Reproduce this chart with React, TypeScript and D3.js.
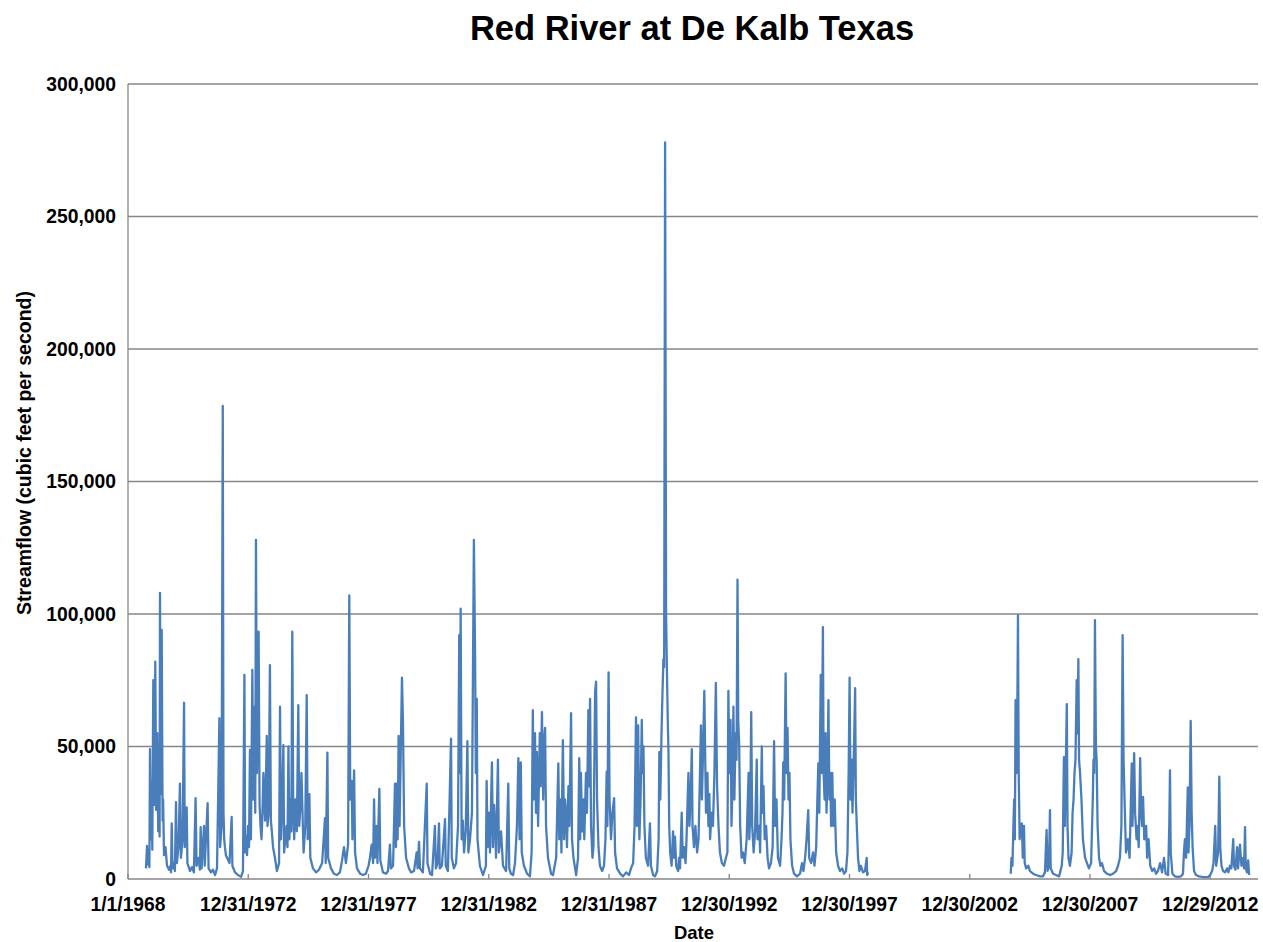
import React from "react";
import * as d3 from "d3";

// Daily streamflow (cfs) as [decimal year, flow]
const flows1968to1998: [number, number][] = [
[1968.748,4000],[1968.79,12500],[1968.83,5500],[1968.87,8000],[1968.89,4500],[1968.915,49000],[1968.948,15000],[1968.985,37000],[1969.01,11000],[1969.052,75000],[1969.089,28000],[1969.135,82000],[1969.172,26000],[1969.218,55000],[1969.256,18000],[1969.289,40000],[1969.314,16000],[1969.33,108000],[1969.364,32000],[1969.401,94000],[1969.438,22000],[1969.46,30000],[1969.497,9000],[1969.559,12000],[1969.621,5000],[1969.705,3500],[1969.767,5000],[1969.79,2500],[1969.817,21000],[1969.85,4000],[1969.91,6000],[1969.95,3000],[1969.996,29000],[1970.03,6000],[1970.10,12000],[1970.16,36000],[1970.20,8000],[1970.27,15000],[1970.33,66500],[1970.36,12000],[1970.44,27000],[1970.47,6000],[1970.58,3000],[1970.66,4500],[1970.74,2500],[1970.81,30500],[1970.85,5000],[1970.93,8000],[1970.99,3500],[1971.02,19600],[1971.06,4000],[1971.16,20000],[1971.19,5000],[1971.31,28600],[1971.35,4000],[1971.45,2500],[1971.53,3500],[1971.62,1500],[1971.70,4000],[1971.80,60700],[1971.83,12000],[1971.89,20000],[1971.94,178500],[1971.97,25000],[1972.00,15000],[1972.03,12000],[1972.07,9000],[1972.12,8000],[1972.22,6000],[1972.31,23400],[1972.34,5000],[1972.45,2500],[1972.57,1500],[1972.70,800],[1972.78,3000],[1972.84,77000],[1972.87,10000],[1972.92,16000],[1972.95,9000],[1972.99,20000],[1973.03,12000],[1973.07,48700],[1973.11,15000],[1973.17,78900],[1973.21,30000],[1973.26,65000],[1973.29,25000],[1973.32,128000],[1973.36,40000],[1973.43,93300],[1973.47,28000],[1973.51,20000],[1973.55,15000],[1973.59,25000],[1973.63,40000],[1973.70,22000],[1973.77,54000],[1973.80,20000],[1973.85,25000],[1973.90,80700],[1973.94,22000],[1973.98,18000],[1974.03,12000],[1974.11,8000],[1974.19,3000],[1974.28,6000],[1974.32,65000],[1974.36,15000],[1974.40,25000],[1974.46,50500],[1974.49,10000],[1974.54,15000],[1974.59,20000],[1974.63,12000],[1974.67,50000],[1974.71,15000],[1974.76,30000],[1974.79,18000],[1974.83,93300],[1974.87,25000],[1974.91,15000],[1974.96,30000],[1975.02,18000],[1975.08,65600],[1975.12,20000],[1975.17,28000],[1975.21,40000],[1975.30,10000],[1975.37,20000],[1975.43,69400],[1975.47,15000],[1975.54,32000],[1975.58,8000],[1975.69,4000],[1975.82,2500],[1975.94,3500],[1976.07,6000],[1976.19,23000],[1976.22,6000],[1976.29,47700],[1976.32,8000],[1976.44,4000],[1976.56,2000],[1976.69,1500],[1976.81,2500],[1976.90,7000],[1976.98,12000],[1977.06,6000],[1977.15,13000],[1977.20,107000],[1977.24,30000],[1977.30,37000],[1977.33,15000],[1977.40,41000],[1977.44,10000],[1977.52,4000],[1977.65,2000],[1977.77,1500],[1977.89,2000],[1978.00,5000],[1978.06,8000],[1978.13,13000],[1978.19,6000],[1978.23,30000],[1978.27,8000],[1978.34,20000],[1978.37,6000],[1978.45,34000],[1978.49,7000],[1978.60,2500],[1978.73,2000],[1978.81,3000],[1978.89,13000],[1978.93,4000],[1979.02,5000],[1979.10,36000],[1979.14,12000],[1979.17,36000],[1979.21,15000],[1979.25,54000],[1979.29,20000],[1979.39,76000],[1979.43,60000],[1979.48,20000],[1979.56,8000],[1979.68,4000],[1979.77,2500],[1979.89,3000],[1980.00,10000],[1980.04,4000],[1980.10,14000],[1980.14,4000],[1980.26,2500],[1980.42,36000],[1980.45,6000],[1980.56,2000],[1980.64,1500],[1980.76,20000],[1980.80,4000],[1980.87,6000],[1980.93,21000],[1980.96,4000],[1981.05,5000],[1981.18,22600],[1981.21,5000],[1981.30,3000],[1981.43,53000],[1981.46,8000],[1981.55,4000],[1981.64,6000],[1981.72,20000],[1981.77,92000],[1981.80,40000],[1981.83,102000],[1981.87,15000],[1981.92,22000],[1981.97,10000],[1982.04,18000],[1982.11,52000],[1982.15,10000],[1982.22,15000],[1982.30,25000],[1982.38,128000],[1982.43,84000],[1982.46,40000],[1982.50,68000],[1982.53,15000],[1982.63,5000],[1982.76,1500],[1982.88,5000],[1982.91,37000],[1982.95,12000],[1983.01,25000],[1983.05,10000],[1983.13,44000],[1983.17,12000],[1983.22,28000],[1983.26,20000],[1983.30,8000],[1983.38,45000],[1983.42,10000],[1983.51,18000],[1983.59,5000],[1983.72,3000],[1983.81,36000],[1983.85,4000],[1983.92,2000],[1984.01,1500],[1984.09,6000],[1984.17,20000],[1984.23,45600],[1984.28,15000],[1984.33,44000],[1984.37,10000],[1984.46,5000],[1984.59,2000],[1984.71,1000],[1984.78,10000],[1984.83,63700],[1984.86,30000],[1984.89,40000],[1984.92,55000],[1984.96,25000],[1985.00,48000],[1985.05,20000],[1985.08,35000],[1985.12,55000],[1985.15,35000],[1985.21,63000],[1985.26,30000],[1985.30,52000],[1985.34,57000],[1985.38,20000],[1985.42,14000],[1985.46,8000],[1985.59,2000],[1985.67,1500],[1985.80,8000],[1985.89,43600],[1985.93,15000],[1985.98,30000],[1986.02,10000],[1986.08,52400],[1986.13,15000],[1986.17,30000],[1986.21,25000],[1986.25,12000],[1986.31,35000],[1986.35,20000],[1986.42,62600],[1986.46,15000],[1986.52,8000],[1986.63,1500],[1986.71,8000],[1986.76,45600],[1986.80,15000],[1986.83,40000],[1986.88,18000],[1986.93,30000],[1986.97,15000],[1987.04,40000],[1987.08,25000],[1987.14,63700],[1987.17,35000],[1987.21,68000],[1987.25,20000],[1987.31,8000],[1987.35,12000],[1987.42,70700],[1987.46,74500],[1987.50,30000],[1987.56,12000],[1987.62,5000],[1987.71,3000],[1987.79,5000],[1987.85,15000],[1987.90,40500],[1987.93,20000],[1987.98,78000],[1988.02,30000],[1988.08,15000],[1988.14,25000],[1988.21,30500],[1988.25,10000],[1988.33,4000],[1988.46,2000],[1988.58,1000],[1988.71,2500],[1988.83,1500],[1988.91,4000],[1989.00,6000],[1989.06,20000],[1989.12,61000],[1989.16,20000],[1989.21,58000],[1989.26,15000],[1989.31,30000],[1989.36,60000],[1989.39,40000],[1989.43,50000],[1989.47,20000],[1989.53,8000],[1989.62,5000],[1989.70,21000],[1989.74,5000],[1989.83,1500],[1989.91,1000],[1990.00,3000],[1990.06,15000],[1990.09,48000],[1990.13,30000],[1990.18,55000],[1990.22,70000],[1990.26,83000],[1990.29,80000],[1990.33,278000],[1990.37,100000],[1990.40,82000],[1990.44,60000],[1990.47,48000],[1990.50,20000],[1990.54,10000],[1990.60,5000],[1990.66,18000],[1990.70,8000],[1990.74,16000],[1990.79,5000],[1990.87,3000],[1990.91,8000],[1990.95,4000],[1991.02,25000],[1991.06,8000],[1991.12,12000],[1991.18,6000],[1991.22,15000],[1991.26,28000],[1991.30,40000],[1991.34,20000],[1991.39,30000],[1991.44,49000],[1991.47,20000],[1991.53,12000],[1991.59,20000],[1991.66,10000],[1991.72,15000],[1991.78,40000],[1991.82,58000],[1991.86,30000],[1991.90,45000],[1991.96,71000],[1991.99,50000],[1992.03,25000],[1992.09,40000],[1992.13,20000],[1992.17,32000],[1992.20,15000],[1992.26,25000],[1992.32,20000],[1992.38,40000],[1992.44,74000],[1992.49,35000],[1992.55,20000],[1992.61,10000],[1992.69,6000],[1992.78,5000],[1992.86,8000],[1992.92,10000],[1992.96,71000],[1993.00,40000],[1993.05,60000],[1993.09,20000],[1993.13,35000],[1993.17,65000],[1993.21,30000],[1993.26,55000],[1993.30,45000],[1993.34,113000],[1993.37,60000],[1993.41,50000],[1993.45,20000],[1993.51,8000],[1993.57,10000],[1993.64,6000],[1993.72,15000],[1993.80,40000],[1993.83,15000],[1993.87,25000],[1993.91,63000],[1993.95,20000],[1994.01,10000],[1994.07,18000],[1994.14,45000],[1994.17,15000],[1994.24,20000],[1994.28,10000],[1994.35,50000],[1994.38,25000],[1994.42,35000],[1994.47,15000],[1994.53,20000],[1994.59,8000],[1994.65,4000],[1994.73,6000],[1994.80,12000],[1994.86,52000],[1994.90,20000],[1994.96,30000],[1995.02,8000],[1995.11,5000],[1995.17,15000],[1995.21,25000],[1995.24,44000],[1995.28,30000],[1995.34,77600],[1995.38,40000],[1995.42,57000],[1995.46,30000],[1995.50,40000],[1995.54,15000],[1995.61,5000],[1995.69,2000],[1995.81,1000],[1995.94,2000],[1996.02,6000],[1996.08,3000],[1996.15,8000],[1996.21,15000],[1996.28,26000],[1996.32,8000],[1996.40,6000],[1996.48,10000],[1996.54,5000],[1996.61,12000],[1996.66,30000],[1996.70,43600],[1996.74,25000],[1996.80,77000],[1996.84,40000],[1996.89,95000],[1996.92,40000],[1996.96,30000],[1997.00,55000],[1997.04,25000],[1997.08,38000],[1997.12,67500],[1997.16,30000],[1997.20,40000],[1997.23,20000],[1997.28,40000],[1997.32,20000],[1997.38,30000],[1997.44,10000],[1997.52,5000],[1997.60,3000],[1997.69,4000],[1997.77,2000],[1997.85,3000],[1997.91,10000],[1997.96,40000],[1998.00,76000],[1998.04,30000],[1998.08,45000],[1998.12,25000],[1998.16,40000],[1998.23,72000],[1998.26,30000],[1998.30,20000],[1998.35,8000],[1998.41,3000],[1998.47,5000],[1998.56,2500],[1998.64,3000],[1998.71,8000],[1998.73,1500],[1998.77,2500]
];

const flows2004to2014: [number, number][] = [
[2004.70,2000],[2004.73,8000],[2004.77,5000],[2004.81,20000],[2004.84,30000],[2004.87,15000],[2004.90,67500],[2004.94,40000],[2004.97,60000],[2005.00,99600],[2005.03,40000],[2005.07,15000],[2005.11,20000],[2005.16,21000],[2005.20,8000],[2005.25,20000],[2005.28,6000],[2005.34,4000],[2005.43,5000],[2005.50,3000],[2005.63,2000],[2005.75,1500],[2005.92,1000],[2006.04,1000],[2006.12,2500],[2006.19,18500],[2006.23,3000],[2006.29,5000],[2006.33,26000],[2006.36,4000],[2006.46,2000],[2006.58,1500],[2006.71,1000],[2006.82,5000],[2006.86,10000],[2006.91,46000],[2006.95,20000],[2007.03,66000],[2007.06,20000],[2007.10,8000],[2007.16,5000],[2007.23,10000],[2007.27,25000],[2007.31,30000],[2007.35,40000],[2007.39,45000],[2007.44,75000],[2007.48,55000],[2007.51,83000],[2007.54,45000],[2007.58,40000],[2007.64,30000],[2007.70,15000],[2007.79,8000],[2007.87,6000],[2007.95,4000],[2008.04,6000],[2008.11,30000],[2008.14,45000],[2008.17,40000],[2008.20,97700],[2008.24,50000],[2008.27,45000],[2008.31,20000],[2008.37,8000],[2008.43,5000],[2008.49,6000],[2008.58,3000],[2008.70,2000],[2008.83,1500],[2008.95,2000],[2009.08,3000],[2009.16,5000],[2009.24,8000],[2009.30,20000],[2009.35,92000],[2009.39,45000],[2009.43,30000],[2009.49,10000],[2009.57,15000],[2009.64,8000],[2009.73,43600],[2009.76,20000],[2009.83,47500],[2009.87,25000],[2009.93,15000],[2009.97,20000],[2010.02,12000],[2010.08,45600],[2010.12,25000],[2010.16,20000],[2010.20,31000],[2010.25,15000],[2010.33,20000],[2010.37,8000],[2010.43,15000],[2010.50,5000],[2010.58,3000],[2010.66,4000],[2010.74,2000],[2010.82,3000],[2010.91,6000],[2010.99,2500],[2011.07,8000],[2011.14,2000],[2011.24,1500],[2011.29,20000],[2011.32,41000],[2011.35,10000],[2011.42,2000],[2011.53,1000],[2011.65,800],[2011.78,1000],[2011.86,2000],[2011.90,10000],[2011.94,15000],[2011.99,8000],[2012.06,34600],[2012.09,10000],[2012.13,20000],[2012.18,59700],[2012.22,25000],[2012.26,12000],[2012.32,3000],[2012.40,1500],[2012.53,1000],[2012.66,800],[2012.78,700],[2012.91,800],[2012.99,1500],[2013.07,3000],[2013.13,6000],[2013.20,20000],[2013.24,5000],[2013.32,10000],[2013.37,38600],[2013.41,12000],[2013.46,5000],[2013.53,3000],[2013.61,2500],[2013.69,4000],[2013.75,2500],[2013.81,5000],[2013.87,4000],[2013.95,15000],[2013.98,5000],[2014.04,3500],[2014.11,12000],[2014.15,4000],[2014.23,13000],[2014.29,5000],[2014.36,8000],[2014.40,4000],[2014.44,19600],[2014.47,4000],[2014.52,2500],[2014.57,7000],[2014.61,1500]
];

const xTickLabels = ["1/1/1968", "12/31/1972", "12/31/1977", "12/31/1982", "12/31/1987", "12/30/1992", "12/30/1997", "12/30/2002", "12/30/2007", "12/29/2012"];
const xDomainLabels = ["1/1/1968", "12/24/2014"];
const yTicks = [0, 50000, 100000, 150000, 200000, 250000, 300000];

const title = "Red River at De Kalb Texas";
const xTitle = "Date";
const yTitle = "Streamflow (cubic feet per second)";

const W = 1263, H = 942;
const M = { left: 128, right: 1258, top: 84, bottom: 879 };
const FONT = "'Liberation Sans', Arial, Helvetica, sans-serif";
const LINE = "#4a7ebb";
const GRID = "#868686";

const parseMDY = (s: string) => {
  const [m, d, y] = s.split("/").map(Number);
  return new Date(Date.UTC(y, m - 1, d));
};
const DAY = 86400000;
const fromDecimalYear = (yr: number) => new Date(Date.UTC(1968, 0, 1) + (yr - 1968) * 365.25 * DAY);

export default function App() {
  const x = d3.scaleUtc().domain(xDomainLabels.map(parseMDY)).range([M.left, M.right]);
  const y = d3.scaleLinear().domain([0, 300000]).range([M.bottom, M.top]);
  const line = d3.line<[number, number]>()
    .x((d) => x(fromDecimalYear(d[0])))
    .y((d) => y(d[1]));
  const fmt = d3.format(",");

  return (
    <svg width={W} height={H} style={{ position: "absolute", left: 0, top: 0, background: "#fff" }} fontFamily={FONT}>
      {yTicks.filter((t) => t > 0).map((t) => (
        <line key={t} x1={M.left} x2={M.right} y1={y(t)} y2={y(t)} stroke={GRID} strokeWidth={1.3} />
      ))}
      <line x1={M.left} x2={M.left} y1={M.top} y2={M.bottom} stroke={GRID} strokeWidth={1.3} />
      <line x1={M.left} x2={M.right} y1={M.bottom} y2={M.bottom} stroke={GRID} strokeWidth={1.3} />
      {xTickLabels.map((l) => (
        <line key={"t" + l} x1={x(parseMDY(l))} x2={x(parseMDY(l))} y1={M.bottom} y2={M.bottom - 5} stroke={GRID} strokeWidth={1.3} />
      ))}
      {[flows1968to1998, flows2004to2014].map((s, i) => (
        <path key={i} d={line(s) || ""} fill="none" stroke={LINE} strokeWidth={2.3} strokeLinejoin="round" />
      ))}
      {yTicks.map((t) => (
        <text key={"y" + t} x={116} y={y(t)} dy="0.35em" textAnchor="end" fontSize={19.3} fontWeight="bold" fill="#000">{fmt(t)}</text>
      ))}
      {xTickLabels.map((l) => (
        <text key={"x" + l} x={x(parseMDY(l))} y={910.5} textAnchor="middle" fontSize={19.3} fontWeight="bold" fill="#000">{l}</text>
      ))}
      <text x={692} y={40} textAnchor="middle" fontSize={34.5} fontWeight="bold" fill="#000">{title}</text>
      <text x={694} y={939} textAnchor="middle" fontSize={18.5} fontWeight="bold" fill="#000">{xTitle}</text>
      <text transform="translate(31,453) rotate(-90)" textAnchor="middle" fontSize={19.5} fontWeight="bold" fill="#000">{yTitle}</text>
    </svg>
  );
}
